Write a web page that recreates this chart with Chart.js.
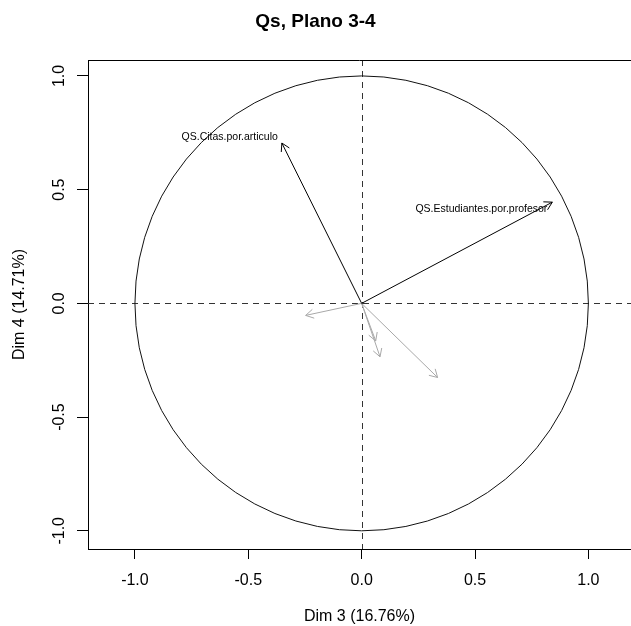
<!DOCTYPE html>
<html>
<head>
<meta charset="utf-8">
<script src="https://cdn.jsdelivr.net/npm/chart.js@4"></script>
<style>
    html, body { margin: 0; padding: 0; background: #fff; overflow: hidden; }
    #wrap { width: 631px; height: 626px; }
</style>
</head>
<body>
<div id="wrap"><canvas id="chart"></canvas></div>
<script>
// variables of the correlation circle (Dim 3 vs Dim 4)
const VAR_NAMES = ['QS.Citas.por.articulo', 'QS.Estudiantes.por.profesor', '', '', '', ''];
const DIM3 = [-0.352, 0.841, -0.247, 0.335, 0.081, 0.062];
const DIM4 = [0.705, 0.445, -0.053, -0.326, -0.235, -0.165];
const X_TICKS = [-1.0, -0.5, 0.0, 0.5, 1.0];
const Y_TICKS = [-1.0, -0.5, 0.0, 0.5, 1.0];
const CIRCLE_R = 1;

const FONT = '"Liberation Sans", Arial, sans-serif';
Chart.defaults.font.family = FONT;
Chart.defaults.color = '#000';

const datasets = VAR_NAMES.map((name, i) => ({
    label: name,
    data: [{ x: 0, y: 0 }, { x: DIM3[i], y: DIM4[i] }],
    showLine: true,
    borderColor: name ? '#000' : '#a8a8a8',
    borderWidth: 1,
    pointRadius: 0,
    fill: false
}));

const corrPlot = {
    id: 'corrPlot',
    beforeDatasetsDraw(chart) {
        const { ctx, chartArea: a, scales: { x, y } } = chart;
        const x0 = x.getPixelForValue(0);
        const y0 = y.getPixelForValue(0);
        ctx.save();
        ctx.strokeStyle = '#333';
        ctx.lineWidth = 1;
        ctx.setLineDash([6, 5]);
        ctx.beginPath();
        ctx.moveTo(a.left, Math.round(y0) + 0.5);
        ctx.lineTo(a.right, Math.round(y0) + 0.5);
        ctx.moveTo(Math.round(x0) + 0.5, a.top);
        ctx.lineTo(Math.round(x0) + 0.5, a.bottom);
        ctx.stroke();
        ctx.setLineDash([]);
        ctx.strokeStyle = '#111';
        ctx.beginPath();
        ctx.ellipse(x0, y0,
            x.getPixelForValue(CIRCLE_R) - x0,
            y0 - y.getPixelForValue(CIRCLE_R), 0, 0, Math.PI * 2);
        ctx.stroke();
        ctx.restore();
    },
    afterDatasetsDraw(chart, args, opts) {
        const { ctx, chartArea: a, scales: { y } } = chart;
        ctx.save();
        // arrow heads + labels
        chart.data.datasets.forEach((ds, i) => {
            const pts = chart.getDatasetMeta(i).data;
            const p0 = pts[0], p1 = pts[1];
            const ang = Math.atan2(p1.y - p0.y, p1.x - p0.x);
            const len = 9, spread = Math.PI / 6;
            ctx.strokeStyle = ds.borderColor;
            ctx.lineWidth = 1;
            ctx.beginPath();
            ctx.moveTo(p1.x - len * Math.cos(ang - spread), p1.y - len * Math.sin(ang - spread));
            ctx.lineTo(p1.x, p1.y);
            ctx.lineTo(p1.x - len * Math.cos(ang + spread), p1.y - len * Math.sin(ang + spread));
            ctx.stroke();
            if (ds.label) {
                const off = opts.labelOffsets[i] || [0, 0];
                ctx.fillStyle = '#000';
                ctx.font = '10.5px ' + FONT;
                ctx.textAlign = 'right';
                ctx.textBaseline = 'middle';
                ctx.fillText(ds.label, p1.x + off[0], p1.y + off[1]);
            }
        });
        // top frame line
        ctx.strokeStyle = '#000';
        ctx.beginPath();
        ctx.moveTo(a.left, a.top + 0.5);
        ctx.lineTo(a.right, a.top + 0.5);
        ctx.stroke();
        // rotated y tick labels, R style
        ctx.fillStyle = '#000';
        ctx.font = '16px ' + FONT;
        ctx.textAlign = 'center';
        ctx.textBaseline = 'alphabetic';
        y.ticks.forEach(t => {
            ctx.save();
            ctx.translate(opts.yLabelX, y.getPixelForValue(t.value));
            ctx.rotate(-Math.PI / 2);
            ctx.fillText(t.value.toFixed(1), 0, 0);
            ctx.restore();
        });
        ctx.restore();
    }
};

new Chart(document.getElementById('chart'), {
    type: 'scatter',
    data: { datasets },
    options: {
        responsive: true,
        maintainAspectRatio: false,
        animation: false,
        layout: { padding: 0 },
        plugins: {
            legend: { display: false },
            tooltip: { enabled: false },
            title: {
                display: true,
                text: 'Qs, Plano 3-4',
                color: '#000',
                font: { size: 19, weight: 'bold' },
                padding: { top: 10.4, bottom: 26.8 }
            },
            corrPlot: {
                labelOffsets: [[-4, -6], [-5, 7]],
                yLabelX: 63.5
            }
        },
        scales: {
            x: {
                type: 'linear',
                min: -1.207,
                max: 1.188,
                afterBuildTicks: s => { s.ticks = X_TICKS.map(v => ({ value: v })); },
                afterFit: s => { s.height = 77; },
                ticks: {
                    callback: v => v.toFixed(1),
                    font: { size: 16 },
                    color: '#000',
                    padding: 12,
                    maxRotation: 0
                },
                grid: { drawOnChartArea: false, drawTicks: true, tickLength: 10, color: '#000' },
                border: { display: true, color: '#000', width: 1 },
                title: {
                    display: true,
                    text: 'Dim 3 (16.76%)',
                    font: { size: 16 },
                    color: '#000',
                    padding: { top: 0, bottom: 0 }
                }
            },
            y: {
                type: 'linear',
                min: -1.080,
                max: 1.070,
                afterBuildTicks: s => { s.ticks = Y_TICKS.map(v => ({ value: v })); },
                afterFit: s => { s.width = 88; },
                ticks: { display: false },
                grid: { drawOnChartArea: false, drawTicks: true, tickLength: 11, color: '#000' },
                border: { display: true, color: '#000', width: 1 },
                title: {
                    display: true,
                    text: 'Dim 4 (14.71%)',
                    font: { size: 16 },
                    color: '#000',
                    padding: { top: 10, bottom: 0 }
                }
            }
        }
    },
    plugins: [corrPlot]
});
</script>
</body>
</html>
